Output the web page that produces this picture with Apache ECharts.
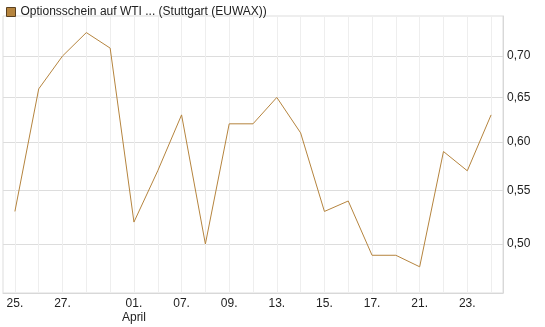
<!DOCTYPE html>
<html>
<head>
<meta charset="utf-8">
<script src="https://cdn.jsdelivr.net/npm/echarts@6/dist/echarts.min.js"></script>
<style>
  html, body { margin: 0; padding: 0; background: #fff; }
  #chart { width: 545px; height: 327px; }
</style>
</head>
<body>
<div id="chart"></div>
<script>
// trading days (March/April)
var days = ['25.', '26.', '27.', '28.', '31.', '01.', '02.', '07.', '08.', '09.', '10.',
            '13.', '14.', '15.', '16.', '17.', '18.', '21.', '22.', '23.', '24.'];
var prices = [0.53, 0.66, 0.70, 0.73, 0.71, 0.52, 0.57, 0.63, 0.50, 0.62, 0.62,
              0.65, 0.61, 0.53, 0.54, 0.49, 0.49, 0.48, 0.59, 0.57, 0.63];
// which days get a label on the x axis
var labelIdx = [0, 2, 5, 7, 9, 11, 13, 15, 17, 19];
var yTicks = [0.50, 0.55, 0.60, 0.65, 0.70];
var seriesName = 'Optionsschein auf WTI ... (Stuttgart (EUWAX))';

var lineColor = '#b5843e';

var myChart = echarts.init(document.getElementById('chart'));
var option = {
  animation: false,
  textStyle: { fontFamily: 'Arial, "Liberation Sans", sans-serif' },
  legend: {
    left: 1,
    top: 1,
    icon: 'rect',
    itemWidth: 9,
    itemHeight: 9,
    itemGap: 5,
    textStyle: { fontSize: 12, color: '#222' },
    itemStyle: { borderColor: '#5a4020', borderWidth: 1 },
    data: [seriesName]
  },
  grid: {
    left: 3, right: 42, top: 16, bottom: 34,
    show: true,
    borderColor: '#dddddd',
    borderWidth: 1
  },
  xAxis: {
    type: 'category',
    data: days,
    boundaryGap: true,
    axisLine: { lineStyle: { color: '#d8d8d8' } },
    axisTick: {
      alignWithLabel: true,
      length: 3,
      interval: 0,
      lineStyle: { color: '#d8d8d8' }
    },
    axisLabel: {
      interval: function (i) { return labelIdx.indexOf(i) >= 0; },
      color: '#222',
      fontSize: 12,
      margin: 4,
      lineHeight: 14,
      formatter: function (v, i) { return i === 5 ? v + '\nApril' : v; }
    },
    splitLine: {
      show: true,
      alignWithLabel: true,
      interval: 0,
      lineStyle: { color: '#eeeeee' }
    }
  },
  yAxis: {
    type: 'log',
    logBase: 10,
    position: 'right',
    min: 0.458,
    max: 0.752,
    axisLine: { show: true, lineStyle: { color: '#d8d8d8' } },
    axisTick: { show: false, customValues: yTicks },
    axisLabel: {
      customValues: yTicks,
      color: '#222',
      fontSize: 12,
      margin: 4,
      padding: [4, 0, 0, 0],
      formatter: function (v) { return Number(v).toFixed(2).replace('.', ','); }
    },
    splitLine: { show: true, lineStyle: { color: '#dddddd' } }
  },
  series: [{
    name: seriesName,
    type: 'line',
    data: prices,
    showSymbol: false,
    symbol: 'none',
    lineStyle: { color: lineColor, width: 1 },
    itemStyle: { color: lineColor }
  }]
};
myChart.setOption(option);
</script>
</body>
</html>
